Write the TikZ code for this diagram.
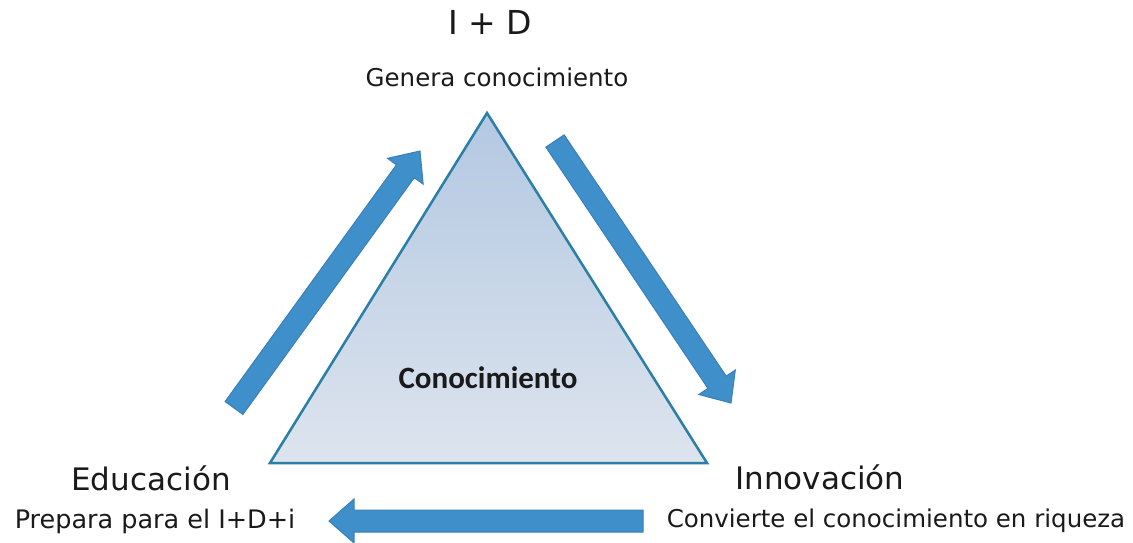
\documentclass[tikz,border=0pt]{standalone}
\usepackage{fontspec}
\setmainfont{DejaVu Sans}
\newfontfamily\calib{Carlito}
\usetikzlibrary{calc}
\definecolor{arrfill}{HTML}{3F8FCB}
\definecolor{arrdraw}{HTML}{3A80B6}
\definecolor{tridraw}{HTML}{2B7FA6}
\definecolor{tritop}{HTML}{B3C8E2}
\definecolor{tribot}{HTML}{DDE4EE}
\definecolor{txt}{HTML}{1A1A1A}
\newcommand\blockarrow[2]{%
  \coordinate (H) at ($(#2)!25pt!(#1)$);
  \fill[arrfill, draw=arrdraw, line width=1pt, line join=miter]
    ($(#1)!11pt!90:(#2)$) -- ($(H)!11pt!-90:(#1)$) -- ($(H)!22pt!-90:(#1)$) -- (#2)
    -- ($(H)!22pt!90:(#1)$) -- ($(H)!11pt!90:(#1)$) -- ($(#1)!11pt!-90:(#2)$) -- cycle;}
\tikzset{
  big/.style={font=\fontsize{31}{34}\selectfont, text=txt, inner sep=0pt},
  small/.style={font=\fontsize{24.5}{27}\selectfont, text=txt, inner sep=0pt},
}
\begin{document}
\begin{tikzpicture}[x=1pt,y=-1pt]
\useasboundingbox[fill=white] (0,0) rectangle (1133,543);
% triangle
\coordinate (top) at (487,113);
\coordinate (bl) at (270,463);
\coordinate (br) at (707,463);
\shade[top color=tritop, bottom color=tribot] (top) -- (br) -- (bl) -- cycle;
\draw[tridraw, line width=2.5pt, line join=miter] (top) -- (br) -- (bl) -- cycle;
\node[font=\calib\bfseries\fontsize{31}{34}\selectfont, text=txt, inner sep=0pt] (kn) at (488,378) {Conocimiento};
% arrows
\coordinate (lA) at (234,408);
\coordinate (lB) at (420,151);
\coordinate (rA) at (555,141);
\coordinate (rB) at (731,403);
\coordinate (bA) at (643,521);
\coordinate (bB) at (329,521);
\blockarrow{lA}{lB}
\blockarrow{rA}{rB}
\blockarrow{bA}{bB}
% texts
\node[big, font=\fontsize{33}{36}\selectfont] (id) at (490,22) {I + D};
\node[small] (gen) at (497,77) {Genera conocimiento};
\node[big] (edu) at (151,478) {Educación};
\node[small, font=\fontsize{25.5}{28}\selectfont] (prep) at (155,521) {Prepara para el I+D+i};
\node[big] (inn) at (820,477) {Innovación};
\node[small] (conv) at (896,521) {Convierte el conocimiento en riqueza};
\end{tikzpicture}
\end{document}
